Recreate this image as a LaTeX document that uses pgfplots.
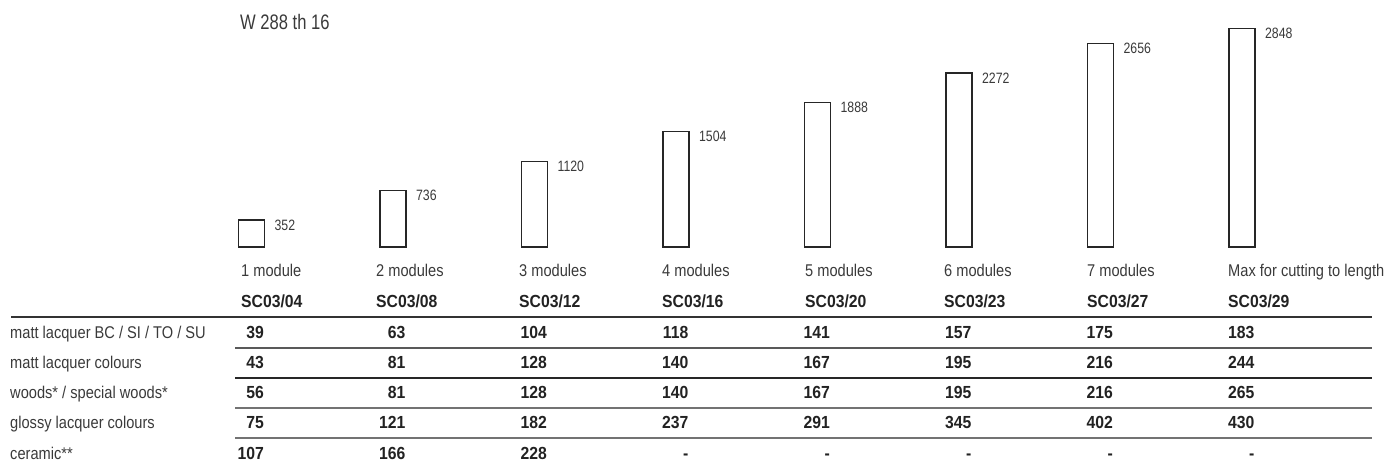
\documentclass[border=0pt]{standalone}
\usepackage{fontspec}
\setmainfont{Liberation Sans}
\newfontfamily\rowfont[FakeStretch=0.86]{Liberation Sans}
\newfontfamily\numfont[FakeStretch=0.9]{Liberation Sans}
\newfontfamily\labfont[FakeStretch=0.82]{Liberation Sans}
\newfontfamily\titfont[FakeStretch=0.79]{Liberation Sans}
\usepackage{pgfplots}
\pgfplotsset{compat=1.18}
\definecolor{txt}{HTML}{3A3A3A}
\definecolor{boldtxt}{HTML}{222222}
\begin{document}
\begin{tikzpicture}
\useasboundingbox (0,0) rectangle (1391pt,466pt);
\begin{axis}[at={(0,0)}, anchor=south west, scale only axis,
  width=1391pt, height=466pt,
  xmin=-1.77739, xmax=8.05300, ymin=-2859, ymax=3224.5,
  axis lines=none, ybar, bar width=26pt, clip=false,
  nodes near coords={\pgfmathprintnumber[fixed,precision=0,1000 sep={},assume math mode=true]{\pgfplotspointmeta}},
  every node near coord/.append style={anchor=north west, inner sep=0pt, xshift=22.5pt, yshift=1pt,
     font=\labfont\fontsize{15}{15}\selectfont, text=txt}]
\addplot[draw=black!85, fill=white, line width=1.3pt] coordinates {(0,352) (1,736) (2,1120) (3,1504) (4,1888) (5,2272) (6,2656) (7,2848)};
\end{axis}
\begin{scope}[shift={(0,466pt)}, x=1pt, y=-1pt]
\node[anchor=base west, inner sep=0pt, font=\titfont\fontsize{21}{21}\selectfont, text=txt] at (240,30) {W 288 th 16};
% headers
\tikzset{hd/.style={anchor=base west, inner sep=0pt, font=\rowfont\fontsize{17}{17}\selectfont, text=txt},
         sc/.style={anchor=base west, inner sep=0pt, font=\numfont\bfseries\fontsize{17.5}{17.5}\selectfont, text=boldtxt},
         rl/.style={anchor=base west, inner sep=0pt, font=\rowfont\fontsize{17}{17}\selectfont, text=txt},
         nv/.style={anchor=base east, inner sep=0pt, font=\numfont\bfseries\fontsize{17.5}{17.5}\selectfont, text=boldtxt}}
\node[hd] at (241,277) {1 module};
\node[hd] at (376,277) {2 modules};
\node[hd] at (519,277) {3 modules};
\node[hd] at (662,277) {4 modules};
\node[hd] at (805,277) {5 modules};
\node[hd] at (944,277) {6 modules};
\node[hd] at (1087,277) {7 modules};
\node[hd] at (1228,277) {Max for cutting to length};
\node[sc] at (241,308) {SC03/04};
\node[sc] at (376,308) {SC03/08};
\node[sc] at (519,308) {SC03/12};
\node[sc] at (662,308) {SC03/16};
\node[sc] at (805,308) {SC03/20};
\node[sc] at (944,308) {SC03/23};
\node[sc] at (1087,308) {SC03/27};
\node[sc] at (1228,308) {SC03/29};
% lines
\draw[black!80, line width=1.2pt] (11,317) -- (1372,317);
\draw[black!65, line width=1.2pt] (235,348) -- (1372,348);
\draw[black!85, line width=1.2pt] (235,378) -- (1372,378);
\draw[black!55, line width=1.2pt] (235,408) -- (1372,408);
\draw[black!55, line width=1.2pt] (235,438) -- (1372,438);
% row labels
\node[rl] at (10,338) {matt lacquer BC / SI / TO / SU};
\node[rl] at (10,368.5) {matt lacquer colours};
\node[rl] at (10,398.5) {woods* / special woods*};
\node[rl] at (10,428.5) {glossy lacquer colours};
\node[rl] at (10,459) {ceramic**};
% values
\foreach \v [count=\i from 0] in {39,63,104,118,141,157,175,183}
  \node[nv] at ({264+141.5*\i},338) {\v};
\foreach \v [count=\i from 0] in {43,81,128,140,167,195,216,244}
  \node[nv] at ({264+141.5*\i},368.5) {\v};
\foreach \v [count=\i from 0] in {56,81,128,140,167,195,216,265}
  \node[nv] at ({264+141.5*\i},398.5) {\v};
\foreach \v [count=\i from 0] in {75,121,182,237,291,345,402,430}
  \node[nv] at ({264+141.5*\i},428.5) {\v};
\foreach \v [count=\i from 0] in {107,166,228,-,-,-,-,-}
  \node[nv] at ({264+141.5*\i},459) {\v};
\end{scope}
\end{tikzpicture}
\end{document}
